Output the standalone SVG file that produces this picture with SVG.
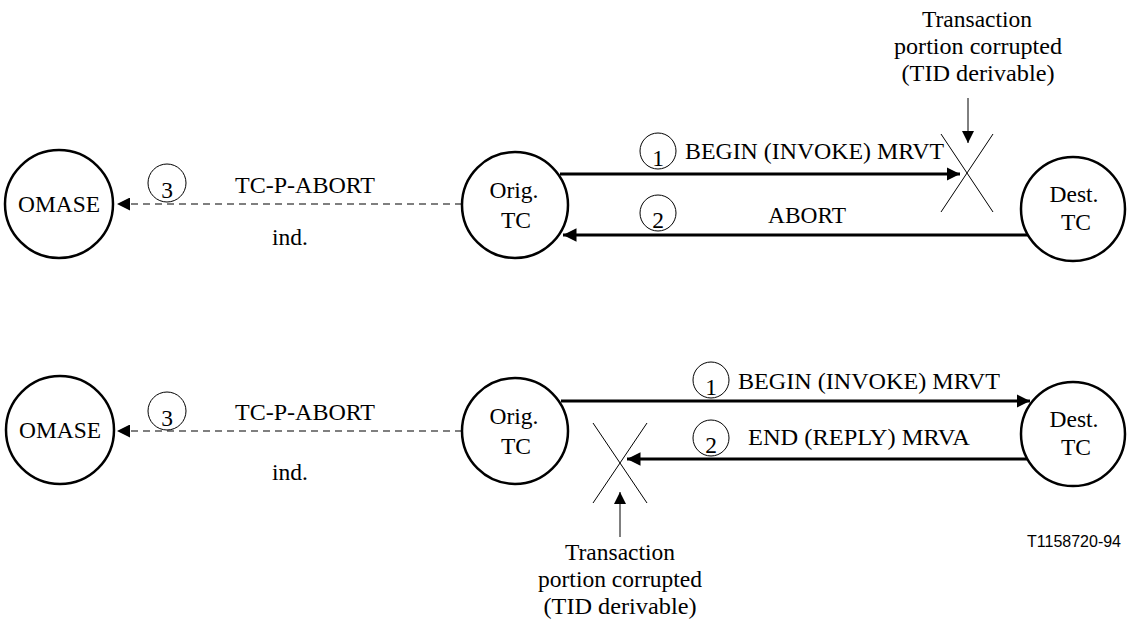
<svg xmlns="http://www.w3.org/2000/svg" width="1128" height="620" viewBox="0 0 1128 620">
<style>
.node{fill:#fff;stroke:#000;stroke-width:2.5}
.num{fill:none;stroke:#000;stroke-width:1}
text{font-family:'Liberation Serif','Times New Roman','DejaVu Serif',serif;font-size:23.5px;fill:#000}
.c{text-anchor:middle}
text.s{font-family:'Liberation Sans',Arial,sans-serif;font-size:16px}
.msg{stroke:#000;stroke-width:3;fill:none}
.dash{stroke:#555;stroke-width:1.3;stroke-dasharray:7,5;fill:none}
.thin{stroke:#000;stroke-width:1;fill:none}
</style>
<defs>
<marker id="ah" viewBox="0 0 10 10" refX="10" refY="5" markerWidth="4.5" markerHeight="4.5" markerUnits="strokeWidth" orient="auto"><path d="M0,0 L10,5 L0,10 z" fill="#000"/></marker>
<marker id="ahd" viewBox="0 0 10 10" refX="10" refY="5" markerWidth="10" markerHeight="10" markerUnits="strokeWidth" orient="auto"><path d="M0,0 L10,5 L0,10 z" fill="#000"/></marker>
<marker id="aht" viewBox="0 0 10 10" refX="10" refY="5" markerWidth="12" markerHeight="12" markerUnits="strokeWidth" orient="auto"><path d="M0,0 L10,5 L0,10 z" fill="#000"/></marker>
</defs>

<g id="connectors">
<line class="dash" x1="462" y1="204" x2="117" y2="204" marker-end="url(#ahd)"/>
<line class="msg" x1="560" y1="174" x2="960" y2="174" marker-end="url(#ah)"/>
<line class="msg" x1="1028" y1="235" x2="563" y2="235" marker-end="url(#ah)"/>
<line class="thin" x1="941" y1="134" x2="993" y2="212"/>
<line class="thin" x1="993" y1="134" x2="941" y2="212"/>
<line class="thin" x1="968" y1="98" x2="968" y2="143" marker-end="url(#aht)"/>
<line class="dash" x1="462" y1="431" x2="117" y2="431" marker-end="url(#ahd)"/>
<line class="msg" x1="561" y1="401" x2="1030" y2="401" marker-end="url(#ah)"/>
<line class="msg" x1="1028" y1="459" x2="627" y2="459" marker-end="url(#ah)"/>
<line class="thin" x1="593" y1="423" x2="647" y2="503"/>
<line class="thin" x1="647" y1="423" x2="593" y2="503"/>
<line class="thin" x1="620" y1="537" x2="620" y2="492" marker-end="url(#aht)"/>
</g>

<g id="omase1"><circle class="node" cx="59" cy="204" r="54"/><text class="c" x="59" y="212" textLength="82" lengthAdjust="spacingAndGlyphs">OMASE</text></g>
<g id="orig1"><circle class="node" cx="515" cy="205" r="53"/><text class="c" x="514" y="198">Orig.</text><text class="c" x="516" y="228">TC</text></g>
<g id="dest1"><circle class="node" cx="1073" cy="209" r="52"/><text class="c" x="1074" y="202">Dest.</text><text class="c" x="1076" y="230">TC</text></g>

<g id="omase2"><circle class="node" cx="60" cy="430" r="54"/><text class="c" x="60" y="438" textLength="82" lengthAdjust="spacingAndGlyphs">OMASE</text></g>
<g id="orig2"><circle class="node" cx="515" cy="431" r="53"/><text class="c" x="514" y="424">Orig.</text><text class="c" x="516" y="454">TC</text></g>
<g id="dest2"><circle class="node" cx="1073" cy="434" r="52"/><text class="c" x="1074" y="427">Dest.</text><text class="c" x="1076" y="455">TC</text></g>

<g id="labels1">
<circle class="num" cx="658" cy="151" r="18"/><text class="c" x="658" y="166">1</text>
<text x="685" y="159" textLength="259" lengthAdjust="spacingAndGlyphs">BEGIN (INVOKE) MRVT</text>
<circle class="num" cx="658" cy="213" r="18"/><text class="c" x="658" y="228">2</text>
<text class="c" x="807" y="223" textLength="78" lengthAdjust="spacingAndGlyphs">ABORT</text>
<circle class="num" cx="167" cy="183" r="19"/><text class="c" x="167" y="198">3</text>
<text class="c" x="305" y="193" textLength="140" lengthAdjust="spacingAndGlyphs">TC-P-ABORT</text>
<text class="c" x="290" y="245">ind.</text>
<text class="c" x="977" y="27" textLength="110" lengthAdjust="spacingAndGlyphs">Transaction</text>
<text class="c" x="978" y="54" textLength="168" lengthAdjust="spacingAndGlyphs">portion corrupted</text>
<text class="c" x="978" y="81" textLength="153" lengthAdjust="spacingAndGlyphs">(TID derivable)</text>
</g>

<g id="labels2">
<circle class="num" cx="711" cy="380" r="18"/><text class="c" x="711" y="395">1</text>
<text x="738" y="389" textLength="262" lengthAdjust="spacingAndGlyphs">BEGIN (INVOKE) MRVT</text>
<circle class="num" cx="711" cy="438" r="18"/><text class="c" x="711" y="453">2</text>
<text x="748" y="445" textLength="222" lengthAdjust="spacingAndGlyphs">END (REPLY) MRVA</text>
<circle class="num" cx="167" cy="411" r="19"/><text class="c" x="167" y="426">3</text>
<text class="c" x="305" y="420" textLength="140" lengthAdjust="spacingAndGlyphs">TC-P-ABORT</text>
<text class="c" x="290" y="480">ind.</text>
<text class="c" x="620" y="560" textLength="110" lengthAdjust="spacingAndGlyphs">Transaction</text>
<text class="c" x="620" y="587" textLength="164" lengthAdjust="spacingAndGlyphs">portion corrupted</text>
<text class="c" x="620" y="614" textLength="153" lengthAdjust="spacingAndGlyphs">(TID derivable)</text>
</g>

<text class="s" x="1121" y="547" text-anchor="end">T1158720-94</text>
</svg>
